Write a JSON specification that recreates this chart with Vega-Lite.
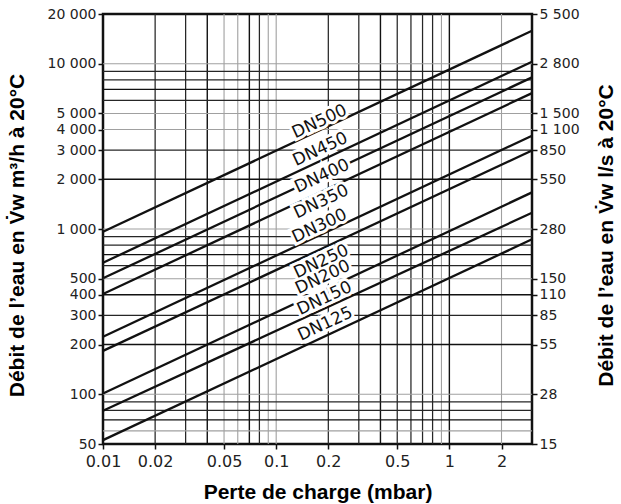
{
  "$schema": "https://vega.github.io/schema/vega-lite/v6.json",
  "width": 429,
  "height": 430,
  "autosize": {"type": "none"},
  "padding": {"left": 103, "top": 14, "right": 89, "bottom": 60},
  "background": "white",
  "config": {
    "view": {"stroke": "#111111", "strokeWidth": 2.5},
    "axis": {
      "grid": false,
      "domain": false,
      "tickColor": "#111111",
      "tickSize": 5,
      "tickWidth": 1.5,
      "labelFont": "DejaVu Sans",
      "labelFontSize": 14,
      "labelColor": "#222222",
      "labelOverlap": false,
      "titleFont": "Liberation Sans",
      "titleFontSize": 21,
      "titleFontWeight": "bold",
      "titleColor": "#000000"
    }
  },
  "datasets": {
    "gridx": [
      {"v": 0.02, "kind": "black"}, {"v": 0.03, "kind": "black"}, {"v": 0.04, "kind": "thick"},
      {"v": 0.05, "kind": "gray"}, {"v": 0.06, "kind": "gray"}, {"v": 0.07, "kind": "thick"},
      {"v": 0.08, "kind": "black"}, {"v": 0.09, "kind": "gray"}, {"v": 0.1, "kind": "gray"},
      {"v": 0.2, "kind": "black"}, {"v": 0.3, "kind": "black"}, {"v": 0.4, "kind": "thick"},
      {"v": 0.5, "kind": "black"}, {"v": 0.6, "kind": "black"}, {"v": 0.7, "kind": "black"},
      {"v": 0.8, "kind": "black"}, {"v": 0.9, "kind": "gray"}, {"v": 1, "kind": "thick"},
      {"v": 2, "kind": "gray"}
    ],
    "gridy": [
      {"v": 60, "kind": "gray"}, {"v": 70, "kind": "thick"}, {"v": 80, "kind": "black"},
      {"v": 90, "kind": "black"}, {"v": 100, "kind": "gray"}, {"v": 200, "kind": "thick"},
      {"v": 300, "kind": "black"}, {"v": 400, "kind": "thick"}, {"v": 500, "kind": "gray"},
      {"v": 600, "kind": "black"}, {"v": 700, "kind": "thick"}, {"v": 800, "kind": "black"},
      {"v": 900, "kind": "black"}, {"v": 1000, "kind": "gray"}, {"v": 2000, "kind": "thick"},
      {"v": 3000, "kind": "black"}, {"v": 4000, "kind": "gray"}, {"v": 5000, "kind": "gray"},
      {"v": 6000, "kind": "black"}, {"v": 7000, "kind": "thick"}, {"v": 8000, "kind": "black"},
      {"v": 9000, "kind": "black"}, {"v": 10000, "kind": "gray"}
    ],
    "curves": [
      {"dn": "DN500", "x": 0.01, "q": 962}, {"dn": "DN500", "x": 3, "q": 15820},
      {"dn": "DN450", "x": 0.01, "q": 625}, {"dn": "DN450", "x": 3, "q": 10275},
      {"dn": "DN400", "x": 0.01, "q": 503}, {"dn": "DN400", "x": 3, "q": 8268},
      {"dn": "DN350", "x": 0.01, "q": 404}, {"dn": "DN350", "x": 3, "q": 6643},
      {"dn": "DN300", "x": 0.01, "q": 223}, {"dn": "DN300", "x": 3, "q": 3665},
      {"dn": "DN250", "x": 0.01, "q": 183}, {"dn": "DN250", "x": 3, "q": 2983},
      {"dn": "DN200", "x": 0.01, "q": 101}, {"dn": "DN200", "x": 3, "q": 1666},
      {"dn": "DN150", "x": 0.01, "q": 79.5}, {"dn": "DN150", "x": 3, "q": 1254},
      {"dn": "DN125", "x": 0.01, "q": 52.8}, {"dn": "DN125", "x": 3, "q": 866}
    ],
    "labels": [
      {"dn": "DN500", "lx": 0.178, "ly": 4456},
      {"dn": "DN450", "lx": 0.180, "ly": 3032},
      {"dn": "DN400", "lx": 0.184, "ly": 2090},
      {"dn": "DN350", "lx": 0.182, "ly": 1461},
      {"dn": "DN300", "lx": 0.178, "ly": 1042},
      {"dn": "DN250", "lx": 0.182, "ly": 634},
      {"dn": "DN200", "lx": 0.186, "ly": 510},
      {"dn": "DN150", "lx": 0.190, "ly": 380},
      {"dn": "DN125", "lx": 0.192, "ly": 266}
    ]
  },
  "resolve": {"axis": {"y": "independent"}},
  "layer": [
    {
      "data": {"name": "gridx"},
      "mark": {"type": "rule"},
      "encoding": {
        "x": {"field": "v", "type": "quantitative", "scale": {"type": "log", "domain": [0.01, 3], "nice": false}},
        "color": {"field": "kind", "type": "ordinal", "scale": {"domain": ["gray", "black", "thick"], "range": ["#a0a0a0", "#262626", "#111111"]}, "legend": null},
        "strokeWidth": {"field": "kind", "type": "ordinal", "scale": {"domain": ["gray", "black", "thick"], "range": [1.1, 1.4, 2.3]}, "legend": null}
      }
    },
    {
      "data": {"name": "gridy"},
      "mark": {"type": "rule"},
      "encoding": {
        "y": {
          "field": "v", "type": "quantitative",
          "scale": {"type": "log", "domain": [50, 20000], "nice": false},
          "axis": {
            "orient": "right",
            "values": [50, 100, 200, 300, 400, 500, 1000, 2000, 3000, 4000, 5000, 10000, 20000],
            "labelPadding": 2,
            "labelFontSize": 14,
            "labelExpr": "datum.value == 20000 ? '5 500' : datum.value == 10000 ? '2 800' : datum.value == 5000 ? '1 500' : datum.value == 4000 ? '1 100' : datum.value == 3000 ? '850' : datum.value == 2000 ? '550' : datum.value == 1000 ? '280' : datum.value == 500 ? '150' : datum.value == 400 ? '110' : datum.value == 300 ? '85' : datum.value == 200 ? '55' : datum.value == 100 ? '28' : '15'",
            "title": "Débit de l’eau en V̇w  l/s à 20°C",
            "titleAngle": 270,
            "titleX": 74,
            "titleY": 221,
            "titleAlign": "center",
            "titleBaseline": "middle"
          }
        },
        "color": {"field": "kind", "type": "ordinal", "scale": {"domain": ["gray", "black", "thick"], "range": ["#a0a0a0", "#262626", "#111111"]}, "legend": null},
        "strokeWidth": {"field": "kind", "type": "ordinal", "scale": {"domain": ["gray", "black", "thick"], "range": [1.1, 1.4, 2.3]}, "legend": null}
      }
    },
    {
      "data": {"name": "curves"},
      "mark": {"type": "line", "color": "#111111", "strokeWidth": 2.3},
      "encoding": {
        "x": {
          "field": "x", "type": "quantitative",
          "scale": {"type": "log", "domain": [0.01, 3], "nice": false},
          "axis": {
            "orient": "bottom",
            "values": [0.01, 0.02, 0.05, 0.1, 0.2, 0.5, 1, 2],
            "format": "~g",
            "labelFontSize": 16,
            "labelPadding": 4,
            "labelFlush": false,
            "title": "Perte de charge (mbar)",
            "titleY": 54,
            "titleBaseline": "alphabetic"
          }
        },
        "y": {
          "field": "q", "type": "quantitative",
          "scale": {"type": "log", "domain": [50, 20000], "nice": false},
          "axis": {
            "orient": "left",
            "values": [50, 100, 200, 300, 400, 500, 1000, 2000, 3000, 4000, 5000, 10000, 20000],
            "labelPadding": 2,
            "labelFontSize": 14,
            "labelExpr": "replace(format(datum.value, ','), ',', ' ')",
            "title": "Débit de l’eau en V̇w  m³/h à 20°C",
            "titleAngle": 270,
            "titleX": -86,
            "titleY": 221,
            "titleAlign": "center",
            "titleBaseline": "middle"
          }
        },
        "detail": {"field": "dn", "type": "nominal"}
      }
    },
    {
      "data": {"name": "labels"},
      "mark": {"type": "text", "angle": -25, "font": "DejaVu Sans", "fontSize": 17, "align": "center", "baseline": "middle", "fill": "white", "stroke": "white", "strokeWidth": 6},
      "encoding": {
        "x": {"field": "lx", "type": "quantitative"},
        "y": {"field": "ly", "type": "quantitative", "axis": null},
        "text": {"field": "dn"}
      }
    },
    {
      "data": {"name": "labels"},
      "mark": {"type": "text", "angle": -25, "font": "DejaVu Sans", "fontSize": 17, "align": "center", "baseline": "middle", "fill": "#111111"},
      "encoding": {
        "x": {"field": "lx", "type": "quantitative"},
        "y": {"field": "ly", "type": "quantitative", "axis": null},
        "text": {"field": "dn"}
      }
    }
  ]
}
